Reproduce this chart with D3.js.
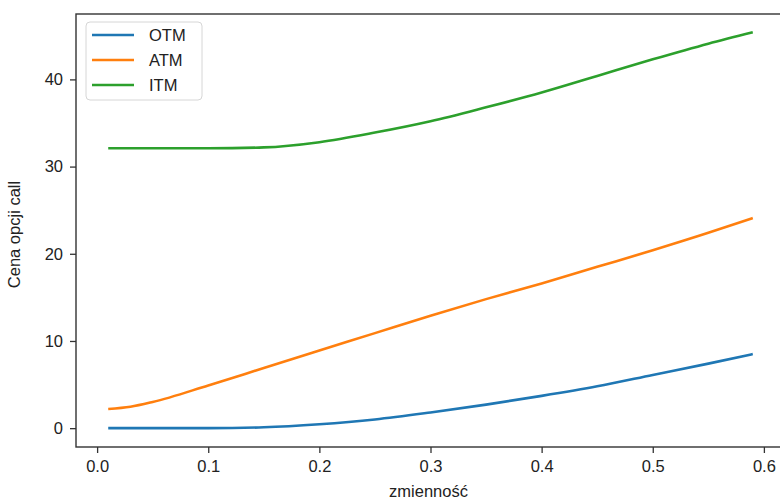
<!DOCTYPE html>
<html>
<head>
<meta charset="utf-8">
<script src="https://cdn.jsdelivr.net/npm/d3@7"></script>
<style>
  body { margin: 0; background: #fff; }
  svg { display: block; font-family: "Liberation Sans", Arial, sans-serif; }
  .tick text { font-size: 16.5px; fill: #222; }
</style>
</head>
<body>
<div class="chart"></div>
<script>
// data
var sigma = [0.01, 0.03, 0.05, 0.10, 0.15, 0.20, 0.25, 0.30, 0.35, 0.40, 0.45, 0.50, 0.55, 0.59];
var otm = [0.0, 0.0, 0.0, 0.0, 0.1, 0.45, 1.0, 1.8, 2.7, 3.7, 4.8, 6.1, 7.4, 8.5];
var atm = [2.2, 2.45, 3.0, 4.9, 6.9, 8.9, 10.9, 12.9, 14.8, 16.6, 18.5, 20.4, 22.4, 24.1];
var itm = [32.1, 32.1, 32.1, 32.1, 32.2, 32.8, 33.9, 35.2, 36.8, 38.5, 40.4, 42.3, 44.1, 45.4];
var seriesNames = ["OTM", "ATM", "ITM"];
var seriesColors = ["#1f77b4", "#ff7f0e", "#2ca02c"];
var xTicks = [0.0, 0.1, 0.2, 0.3, 0.4, 0.5, 0.6];
var yTicks = [0, 10, 20, 30, 40];

var svgWidth = 780;
var svgHeight = 499;

var margin = { top: 14, right: -5, bottom: 52, left: 76 };
var width = svgWidth - margin.left - margin.right;
var height = svgHeight - margin.top - margin.bottom;

var svg = d3.select(".chart")
  .append("svg")
  .attr("width", svgWidth)
  .attr("height", svgHeight);

var chartGroup = svg.append("g")
  .attr("transform", `translate(${margin.left}, ${margin.top})`);

var xScale = d3.scaleLinear()
  .domain([-0.019, 0.619])
  .range([0, width]);

var yScale = d3.scaleLinear()
  .domain([-2.16, 47.5])
  .range([height, 0]);

// axes
var bottomAxis = d3.axisBottom(xScale)
  .tickValues(xTicks)
  .tickFormat(d3.format(".1f"))
  .tickSize(6)
  .tickPadding(7);

var leftAxis = d3.axisLeft(yScale)
  .tickValues(yTicks)
  .tickSize(6)
  .tickPadding(7);

var xAxis = chartGroup.append("g")
  .attr("transform", `translate(0, ${height})`)
  .call(bottomAxis);

var yAxis = chartGroup.append("g")
  .call(leftAxis);

[xAxis, yAxis].forEach(function(ax) {
  ax.select(".domain").remove();
  ax.selectAll(".tick line").attr("stroke", "#333").attr("stroke-width", 1.3);
});

// spines
chartGroup.append("rect")
  .attr("x", 0)
  .attr("y", 0)
  .attr("width", width)
  .attr("height", height)
  .attr("fill", "none")
  .attr("stroke", "#333")
  .attr("stroke-width", 1.4);

// lines
var table = [otm, atm, itm];
var line = d3.line()
  .x((d, i) => xScale(sigma[i]))
  .y(d => yScale(d))
  .curve(d3.curveMonotoneX);

chartGroup.selectAll(".series")
  .data(table)
  .enter()
  .append("path")
  .attr("class", "series")
  .attr("d", d => line(d))
  .attr("fill", "none")
  .attr("stroke", (d, i) => seriesColors[i])
  .attr("stroke-width", 2.6);

// legend
var legend = chartGroup.append("g")
  .attr("transform", "translate(10, 8)");

legend.append("rect")
  .attr("width", 116)
  .attr("height", 78)
  .attr("rx", 4)
  .attr("fill", "#fff")
  .attr("fill-opacity", 0.8)
  .attr("stroke", "#d6d6d6")
  .attr("stroke-width", 1);

seriesNames.forEach(function(name, i) {
  var yy = 13 + i * 25;
  legend.append("line")
    .attr("x1", 6)
    .attr("x2", 48)
    .attr("y1", yy)
    .attr("y2", yy)
    .attr("stroke", seriesColors[i])
    .attr("stroke-width", 2.6);
  legend.append("text")
    .attr("x", 63)
    .attr("y", yy + 6)
    .attr("font-size", "16.5px")
    .attr("fill", "#222")
    .text(name);
});

// axis titles
svg.append("text")
  .attr("x", margin.left + width / 2 - 2)
  .attr("y", 497)
  .attr("text-anchor", "middle")
  .attr("font-size", "16.5px")
  .attr("fill", "#222")
  .text("zmienność");

svg.append("text")
  .attr("transform", `translate(20, ${margin.top + height / 2 + 4}) rotate(-90)`)
  .attr("text-anchor", "middle")
  .attr("font-size", "16.5px")
  .attr("fill", "#222")
  .text("Cena opcji call");
</script>
</body>
</html>
